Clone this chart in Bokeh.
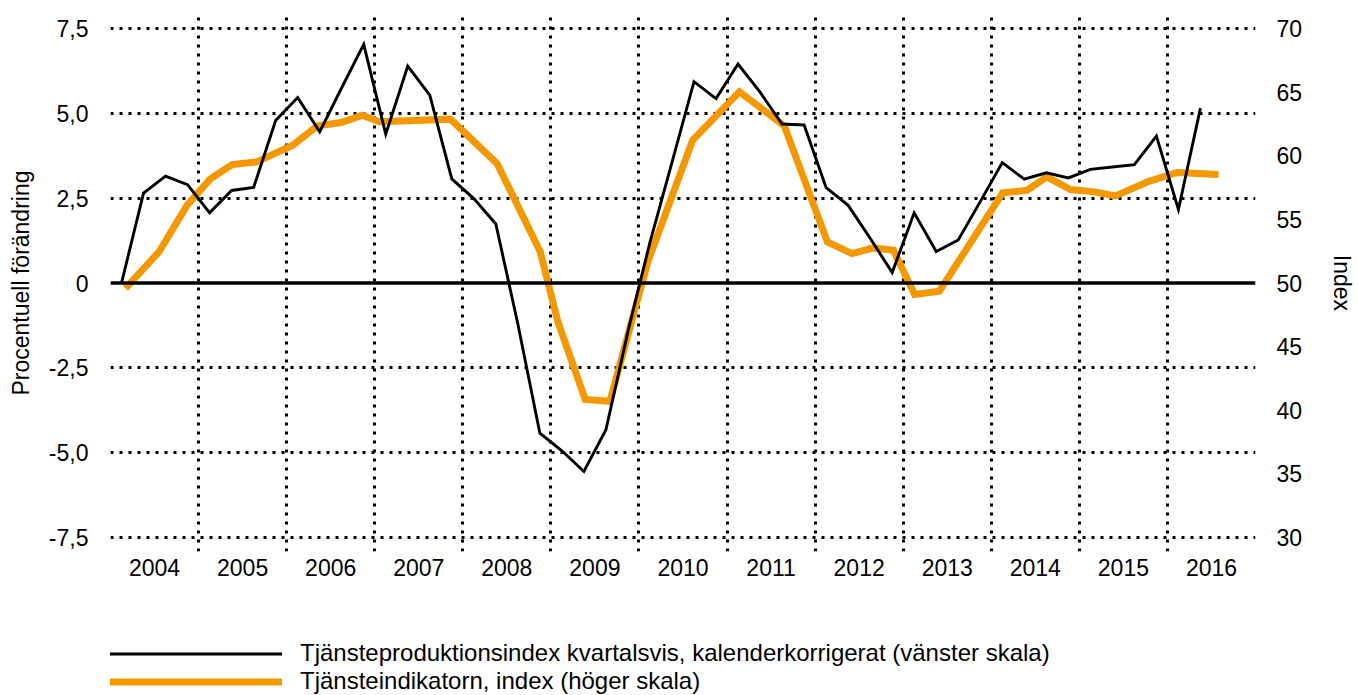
from bokeh.plotting import figure
from bokeh.layouts import column
from bokeh.models import FixedTicker, LinearAxis, Range1d, Span, Legend, LegendItem
from bokeh.embed import file_html
from bokeh.resources import INLINE

# ---------------- data ----------------
years = list(range(2004, 2017))
year_labels = [str(y) for y in years]

# Tjänsteproduktionsindex kvartalsvis (left scale), 2004K1 .. 2016K2
black_vals = [0.0, 2.65, 3.15, 2.9, 2.07, 2.73, 2.82, 4.79, 5.47, 4.46,
              5.76, 7.04, 4.39, 6.4, 5.54, 3.07, 2.49, 1.74, -1.21, -4.43,
              -4.95, -5.56, -4.33, -1.43, 1.2, 3.56, 5.94, 5.44, 6.46, 5.63,
              4.69, 4.66, 2.81, 2.29, 1.32, 0.31, 2.07, 0.93, 1.27, 2.4,
              3.55, 3.06, 3.25, 3.1, 3.35, 3.42, 3.49, 4.33, 2.17, 5.16]
black_start_year = 2004
quarters_per_year = 4

# Tjänsteindikatorn (right scale), time as decimal year
orange_t = [2004.17, 2004.55, 2004.87, 2005.13, 2005.38, 2005.66, 2006.07, 2006.35,
            2006.62, 2006.86, 2007.05, 2007.86, 2008.39, 2008.88, 2009.08, 2009.39,
            2009.67, 2010.10, 2010.61, 2011.14, 2011.65, 2012.14, 2012.42, 2012.66,
            2012.89, 2013.13, 2013.41, 2014.13, 2014.41, 2014.63, 2014.90, 2015.17,
            2015.41, 2015.79, 2016.11, 2016.58]
orange_vals = [49.57, 52.44, 56.12, 58.17, 59.31, 59.53, 60.84, 62.36,
               62.62, 63.2, 62.68, 62.89, 59.39, 52.44, 46.93, 40.84,
               40.69, 51.65, 61.24, 65.04, 62.36, 53.23, 52.31, 52.76,
               52.57, 49.1, 49.35, 57.09, 57.3, 58.35, 57.35, 57.17,
               56.85, 58.0, 58.69, 58.53]

left_ticks = [-7.5, -5.0, -2.5, 0.0, 2.5, 5.0, 7.5]
left_tick_labels = ["-7,5", "-5,0", "-2,5", "0", "2,5", "5,0", "7,5"]
right_ticks = [30, 35, 40, 45, 50, 55, 60, 65, 70]

label_black = "Tjänsteproduktionsindex kvartalsvis, kalenderkorrigerat (vänster skala)"
label_orange = "Tjänsteindikatorn, index (höger skala)"

# ---------------- layout ----------------
FONT = "Liberation Sans"
FS = "23px"
FS_LEG = "24px"
ORANGE = "#F39800"
DOT = "3 6"
W = 1358
H_MAIN = 630
H_LEG = 65

Y0, Y1 = -7.92, 7.92


def to_right(v):
    return 50 + v * 20 / 7.5


black_t = [black_start_year + (i + 0.5) / quarters_per_year for i in range(len(black_vals))]

p = figure(width=W, height=H_MAIN,
           x_range=Range1d(years[0], years[-1] + 1),
           y_range=Range1d(Y0, Y1),
           output_backend="svg", toolbar_location=None,
           min_border_left=110, min_border_right=97,
           min_border_top=14, min_border_bottom=H_MAIN - 551)
p.extra_y_ranges = {"right": Range1d(to_right(Y0), to_right(Y1))}
p.outline_line_color = None
p.background_fill_color = "white"
p.border_fill_color = "white"

# grids
p.xgrid.ticker = FixedTicker(ticks=years)
p.xgrid.grid_line_color = "black"
p.xgrid.grid_line_width = 3
p.xgrid.grid_line_dash = DOT
p.ygrid.ticker = FixedTicker(ticks=[t for t in left_ticks if t != 0])
p.ygrid.grid_line_color = "black"
p.ygrid.grid_line_width = 3
p.ygrid.grid_line_dash = DOT

p.add_layout(Span(location=0, dimension="width", line_color="black", line_width=3.3))

orange_r = p.line(orange_t, orange_vals, y_range_name="right", line_color=ORANGE,
                  line_width=7, line_join="miter")
black_r = p.line(black_t, black_vals, line_color="black", line_width=2.9, line_join="miter")


def style_axis(ax):
    ax.axis_line_color = None
    ax.major_tick_line_color = None
    ax.minor_tick_line_color = None
    ax.major_label_text_font = FONT
    ax.major_label_text_font_size = FS
    ax.major_label_text_color = "black"
    ax.axis_label_text_font = FONT
    ax.axis_label_text_font_size = FS
    ax.axis_label_text_font_style = "normal"
    ax.axis_label_text_color = "black"


yl = p.yaxis[0]
style_axis(yl)
yl.ticker = FixedTicker(ticks=left_ticks)
yl.major_label_overrides = dict(zip(left_ticks, left_tick_labels))
yl.major_label_standoff = 16
yl.axis_label = "Procentuell förändring"
yl.axis_label_standoff = 12

yr = LinearAxis(y_range_name="right", ticker=FixedTicker(ticks=right_ticks))
style_axis(yr)
yr.major_label_standoff = 15
yr.axis_label = "Index"
yr.axis_label_standoff = 24
p.add_layout(yr, "right")

xa = p.xaxis[0]
style_axis(xa)
mid = [y + 0.5 for y in years]
xa.ticker = FixedTicker(ticks=mid)
xa.major_label_overrides = dict(zip(mid, year_labels))
xa.major_label_standoff = 1

# ---------------- legend strip ----------------
q = figure(width=W, height=H_LEG, x_range=Range1d(0, 10), y_range=Range1d(0, 10),
           output_backend="svg", toolbar_location=None,
           x_axis_type=None, y_axis_type=None, min_border=0)
q.outline_line_color = None
q.xgrid.visible = False
q.ygrid.visible = False
# legend carriers: styled like the plotted series, placed outside the visible range
leg_black = q.line([-20, -10], [-20, -20], line_color="black", line_width=3)
leg_orange = q.line([-20, -10], [-20, -20], line_color=ORANGE, line_width=7)
legend = Legend(items=[LegendItem(label=label_black, renderers=[leg_black]),
                       LegendItem(label=label_orange, renderers=[leg_orange])],
                location=(-2, 0), orientation="vertical",
                glyph_width=174, glyph_height=27, label_height=27,
                label_standoff=18, spacing=0, padding=0, margin=0,
                border_line_color=None, background_fill_alpha=0,
                label_text_font=FONT, label_text_font_size=FS_LEG,
                label_text_color="black")
q.add_layout(legend)

layout = column(p, q, spacing=0)
open("out.html", "w").write(file_html(layout, INLINE))
